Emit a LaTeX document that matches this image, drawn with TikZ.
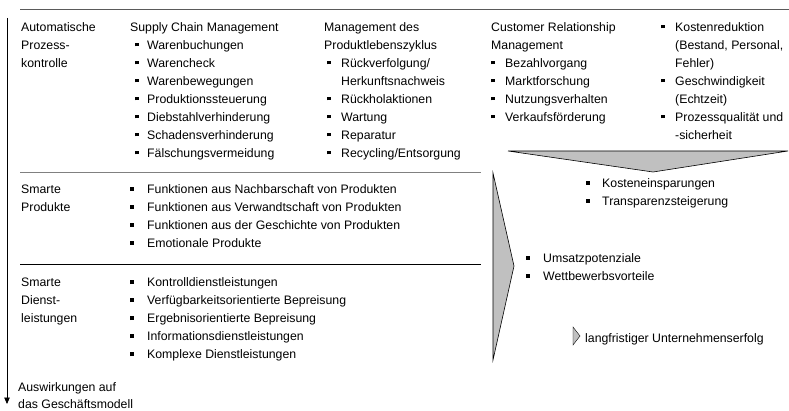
\documentclass[tikz,border=0pt]{standalone}
\usepackage{fontspec}
\setmainfont{Liberation Sans}
\usetikzlibrary{arrows.meta}
\definecolor{chevgray}{RGB}{192,192,192}
\definecolor{rulegray}{RGB}{90,90,90}
\newcommand{\sq}{\rule[2.7pt]{3.8pt}{3.8pt}}
\newcommand{\li}[1][12pt]{\makebox[#1][l]{\sq}}
\newcommand{\fst}{\rule{0pt}{10pt}}

\begin{document}
\begin{tikzpicture}[x=1pt,y=-1pt,line cap=butt,line join=miter,
  txt/.style={anchor=north west,inner sep=0pt,align=left,font=\fontsize{12.3}{18}\selectfont},
  chev/.style={draw=black,fill=chevgray,line width=0.6pt}]
\useasboundingbox (0,0) rectangle (789,411);
% rules
\draw [line width=1pt,rulegray] (20,10) -- (789,10);
\draw [line width=0.8pt,gray] (20,172) -- (481,172);
\draw [line width=0.8pt,black] (20,264) -- (481,264);
\coordinate (axTop) at (7,18);
\coordinate (axEnd) at (7,404);
\draw [line width=0.8pt,-{Triangle[width=5.5pt,length=6.5pt]}] (axTop) -- (axEnd);
% first row
\node[txt] (apkHead) at (21,21) {\fst Automatische\\Prozess-\\kontrolle};
\node[txt] (scmHead) at (130,21) {\fst Supply Chain Management};
\node[txt] (scmList) at (135,39) {\fst\li Warenbuchungen\\\li Warencheck\\\li Warenbewegungen\\\li Produktionssteuerung\\\li Diebstahlverhinderung\\\li Schadensverhinderung\\\li Fälschungsvermeidung};
\node[txt] (plmHead) at (324,21) {\fst Management des\\Produktlebenszyklus};
\node[txt] (plmList) at (327,57) {\fst\li[14pt]Rückverfolgung/\\\hspace*{14pt}Herkunftsnachweis\\\li[14pt]Rückholaktionen\\\li[14pt]Wartung\\\li[14pt]Reparatur\\\li[14pt]Recycling/Entsorgung};
\node[txt] (crmHead) at (491,21) {\fst Customer Relationship\\Management};
\node[txt] (crmList) at (491,57) {\fst\li[14pt]Bezahlvorgang\\\li[14pt]Marktforschung\\\li[14pt]Nutzungsverhalten\\\li[14pt]Verkaufsförderung};
\node[txt] (effList) at (661,21) {\fst\li[14pt]Kostenreduktion\\\hspace*{14pt}(Bestand, Personal,\\\hspace*{14pt}Fehler)\\\li[14pt]Geschwindigkeit\\\hspace*{14pt}(Echtzeit)\\\li[14pt]Prozessqualität und\\\hspace*{14pt}-sicherheit};
\draw [chev] (508,151) -- (788,151) -- (653,172) -- cycle;
\node[txt] (costList) at (586,177.5) {\fst\li[16pt]Kosteneinsparungen\\\li[16pt]Transparenzsteigerung};
% second and third row
\node[txt] (spHead) at (21,183.5) {\fst Smarte\\Produkte};
\node[txt] (spList) at (130,183.5) {\fst\li[17pt]Funktionen aus Nachbarschaft von Produkten\\\li[17pt]Funktionen aus Verwandtschaft von Produkten\\\li[17pt]Funktionen aus der Geschichte von Produkten\\\li[17pt]Emotionale Produkte};
\node[txt] (sdHead) at (21,276.5) {\fst Smarte\\Dienst-\\leistungen};
\node[txt] (sdList) at (130,276.5) {\fst\li[17pt]Kontrolldienstleistungen\\\li[17pt]Verfügbarkeitsorientierte Bepreisung\\\li[17pt]Ergebnisorientierte Bepreisung\\\li[17pt]Informationsdienstleistungen\\\li[17pt]Komplexe Dienstleistungen};
\draw [chev] (493,173) -- (514,266) -- (493,360) -- cycle;
\node[txt] (revList) at (526,252.5) {\fst\li[17pt]Umsatzpotenziale\\\li[17pt]Wettbewerbsvorteile};
\draw [chev,line width=0.4pt] (573,327) -- (580,336) -- (573,345) -- cycle;
\node[txt] (succ) at (585,332.5) {\fst langfristiger Unternehmenserfolg};
\node[txt,font=\fontsize{12.3}{17}\selectfont] (axLabel) at (18,381) {\fst Auswirkungen auf\\das Geschäftsmodell};
\end{tikzpicture}
\end{document}
